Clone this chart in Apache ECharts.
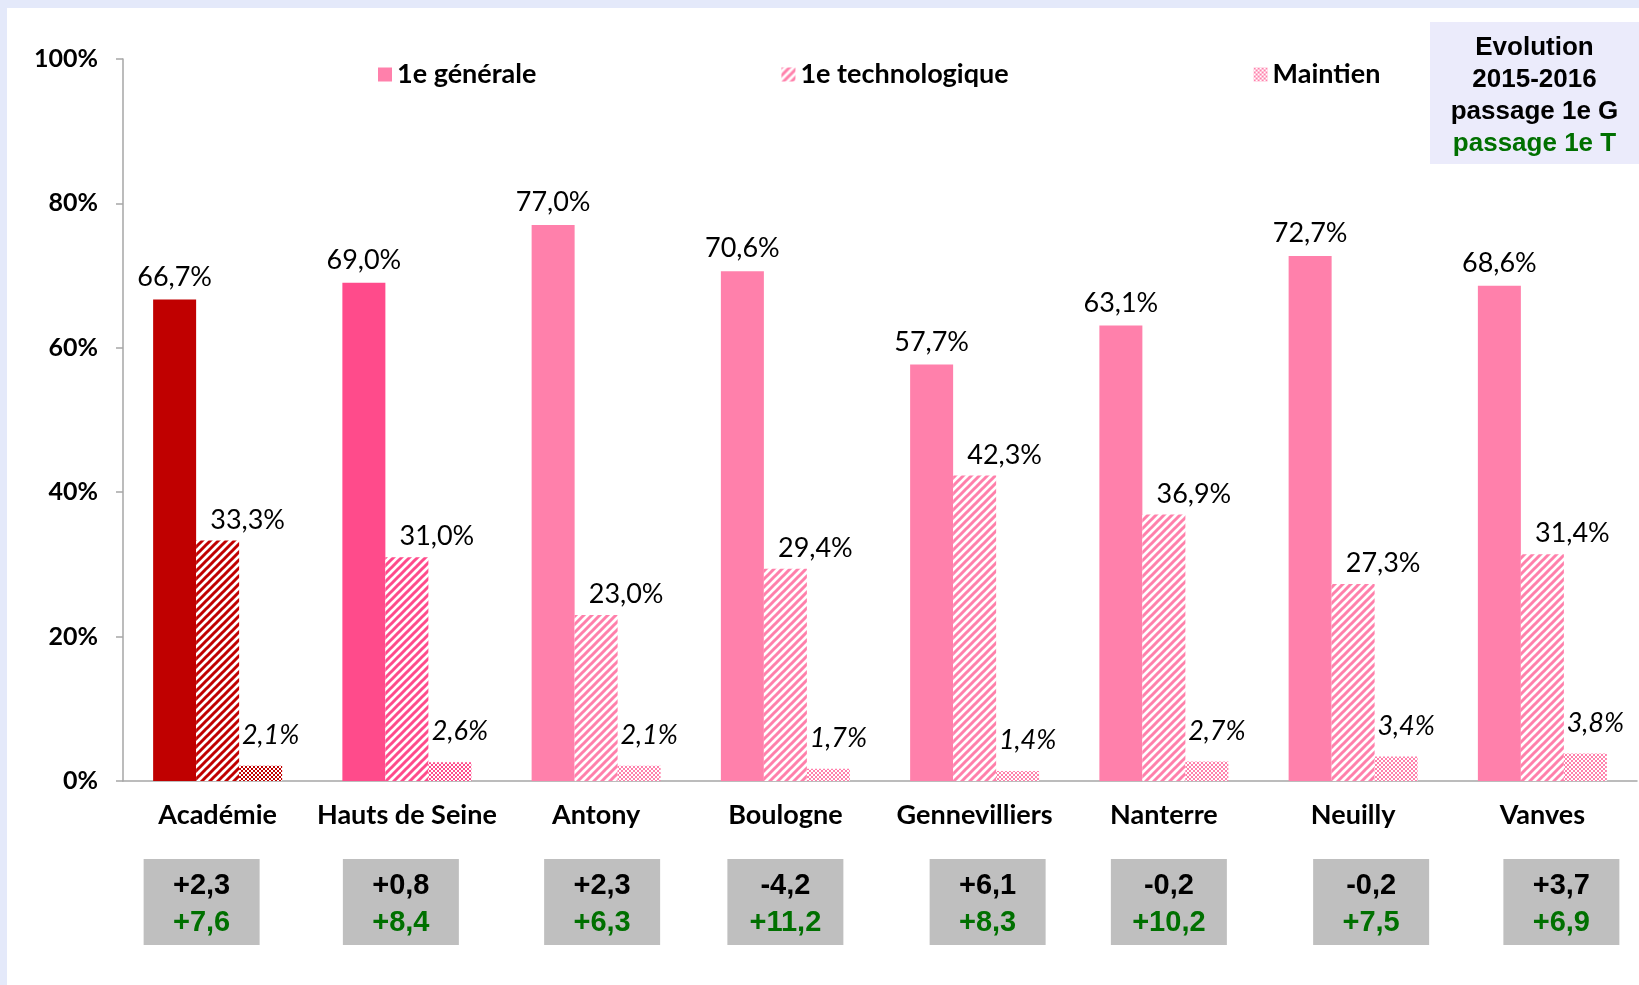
<!DOCTYPE html>
<html>
<head>
<meta charset="utf-8">
<script src="https://cdn.jsdelivr.net/npm/echarts@6/dist/echarts.min.js"></script>
<style>
  html, body { margin: 0; padding: 0; background: #e4e9fa; }
  #main { position: absolute; left: 7px; top: 8px; width: 1632px; height: 977px; background: #fff; }
</style>
</head>
<body>
<div id="main"></div>
<script>
const categories = ['Académie', 'Hauts de Seine', 'Antony', 'Boulogne', 'Gennevilliers', 'Nanterre', 'Neuilly', 'Vanves']
const generale = [66.7, 69.0, 77.0, 70.6, 57.7, 63.1, 72.7, 68.6]
const techno = [33.3, 31.0, 23.0, 29.4, 42.3, 36.9, 27.3, 31.4]
const maintien = [2.1, 2.6, 2.1, 1.7, 1.4, 2.7, 3.4, 3.8]
// évolution 2015-2016 (points)
const evolG = ['+2,3', '+0,8', '+2,3', '-4,2', '+6,1', '-0,2', '-0,2', '+3,7']
const evolT = ['+7,6', '+8,4', '+6,3', '+11,2', '+8,3', '+10,2', '+7,5', '+6,9']

const barColors = ['#c00000', '#ff4b8b', '#ff80ab', '#ff80ab', '#ff80ab', '#ff80ab', '#ff80ab', '#ff80ab']
// décalage horizontal des cadres gris sous les catégories (px)
const boxShift = [-16, -6, 6, 0, 13, 5, 18, 19]
const FONT = 'Lato'
const GREEN = '#007000'

function hatch(color) {
  const c = document.createElement('canvas')
  c.width = 8; c.height = 8
  const ctx = c.getContext('2d')
  ctx.fillStyle = '#fff'
  ctx.fillRect(0, 0, 8, 8)
  ctx.strokeStyle = color
  ctx.lineWidth = 3
  ctx.beginPath()
  ctx.moveTo(-1, 9); ctx.lineTo(9, -1)
  ctx.moveTo(-5, 5); ctx.lineTo(5, -5)
  ctx.moveTo(3, 13); ctx.lineTo(13, 3)
  ctx.stroke()
  return { image: c, repeat: 'repeat' }
}

function checker(color) {
  const c = document.createElement('canvas')
  c.width = 4; c.height = 4
  const ctx = c.getContext('2d')
  ctx.fillStyle = '#fff'
  ctx.fillRect(0, 0, 4, 4)
  ctx.fillStyle = color
  ctx.fillRect(0, 0, 2, 2)
  ctx.fillRect(2, 2, 2, 2)
  return { image: c, repeat: 'repeat' }
}

const pct = p => p.value.toFixed(1).replace('.', ',') + '%'

// cadres gris : texte riche
const boxRich = {
  p1: { width: 116, height: 8, align: 'center', backgroundColor: '#bfbfbf', fontSize: 4, lineHeight: 8, color: '#bfbfbf' },
  p2: { width: 116, height: 4, align: 'center', backgroundColor: '#bfbfbf', fontSize: 4, lineHeight: 4, color: '#bfbfbf' },
  a: { width: 116, height: 37, align: 'center', backgroundColor: '#bfbfbf', fontFamily: 'Arial', fontWeight: 'bold', fontSize: 29, lineHeight: 37, color: '#000' },
  b: { width: 116, height: 37, align: 'center', backgroundColor: '#bfbfbf', fontFamily: 'Arial', fontWeight: 'bold', fontSize: 29, lineHeight: 37, color: GREEN }
}
boxShift.forEach((d, i) => {
  boxRich['s' + i] = { width: Math.max(2 * Math.abs(d), 1), height: 4, fontSize: 4, lineHeight: 4, color: 'transparent' }
})
function boxLabel(v, i) {
  const d = boxShift[i]
  const sp = '{s' + i + '|\u00a0}'
  const line = t => d > 0 ? sp + t : (d < 0 ? t + sp : t)
  return [line('{p1|\u00a0}'), line('{a|' + evolG[i] + '}'), line('{b|' + evolT[i] + '}'), line('{p2|\u00a0}')].join('\n')
}

const chart = echarts.init(document.getElementById('main'))

chart.setOption({
  backgroundColor: '#fff',
  animation: false,
  title: {
    text: '{t|Evolution}\n{t|2015-2016}\n{t|passage 1e G}\n{g|passage 1e T}',
    right: 0,
    top: 11,
    padding: [13, 10, 7, 10],
    backgroundColor: '#ebebfb',
    textStyle: {
      rich: {
        t: { width: 189, align: 'center', color: '#000', fontFamily: 'Arial', fontWeight: 'bold', fontSize: 26, lineHeight: 32 },
        g: { width: 189, align: 'center', color: GREEN, fontFamily: 'Arial', fontWeight: 'bold', fontSize: 26, lineHeight: 32 }
      }
    }
  },
  legend: {
    left: 366,
    top: 48,
    itemGap: 245,
    itemWidth: 14,
    itemHeight: 14,
    icon: 'rect',
    textStyle: { fontFamily: FONT, fontWeight: 'bold', fontSize: 27, color: '#000' },
    data: ['1e générale', '1e technologique', 'Maintien']
  },
  grid: { left: 116, right: 2, top: 51, bottom: 204 },
  xAxis: [{
    type: 'category',
    data: categories,
    axisLine: { lineStyle: { color: '#a6a6a6', width: 1.5 } },
    axisTick: { length: 8, lineStyle: { color: '#a6a6a6', width: 1.5 } },
    axisLabel: { interval: 0, margin: 21, fontFamily: FONT, fontWeight: 'bold', fontSize: 27, color: '#000' }
  }, {
    type: 'category',
    data: categories,
    position: 'bottom',
    gridIndex: 0,
    axisLine: { show: false },
    axisTick: { show: false },
    axisLabel: {
      interval: 0,
      margin: 78,
      formatter: boxLabel,
      rich: boxRich
    }
  }],
  yAxis: {
    type: 'value',
    min: 0,
    max: 100,
    interval: 20,
    splitLine: { show: false },
    axisLine: { show: true, lineStyle: { color: '#a6a6a6', width: 1.5 } },
    axisTick: { show: true, length: 7, lineStyle: { color: '#a6a6a6', width: 1.5 } },
    axisLabel: {
      margin: 25,
      formatter: '{value}%',
      fontFamily: FONT, fontWeight: 'bold', fontSize: 25, color: '#000'
    }
  },
  series: [{
    name: '1e générale',
    type: 'bar',
    barWidth: 43,
    barGap: '0%',
    itemStyle: { color: '#ff80ab' },
    label: {
      show: true, position: 'top', distance: 9, formatter: pct,
      fontFamily: FONT, fontSize: 27, color: '#000'
    },
    data: generale.map((v, i) => ({ value: v, itemStyle: { color: barColors[i] } }))
  }, {
    name: '1e technologique',
    type: 'bar',
    barWidth: 43,
    barGap: '0%',
    itemStyle: { color: hatch('#ff80ab') },
    label: {
      show: true, position: 'top', distance: 7, offset: [30, 0], formatter: pct,
      fontFamily: FONT, fontSize: 27, color: '#000'
    },
    data: techno.map((v, i) => ({ value: v, itemStyle: { color: hatch(barColors[i]) } }))
  }, {
    name: 'Maintien',
    type: 'bar',
    barWidth: 43,
    barGap: '0%',
    itemStyle: { color: checker('#ff80ab') },
    label: {
      show: true, position: 'top', distance: 17, offset: [10, 0], formatter: pct,
      fontFamily: FONT, fontStyle: 'italic', fontSize: 27, color: '#000'
    },
    data: maintien.map((v, i) => ({ value: v, itemStyle: { color: checker(barColors[i]) } }))
  }]
})
</script>
</body>
</html>
